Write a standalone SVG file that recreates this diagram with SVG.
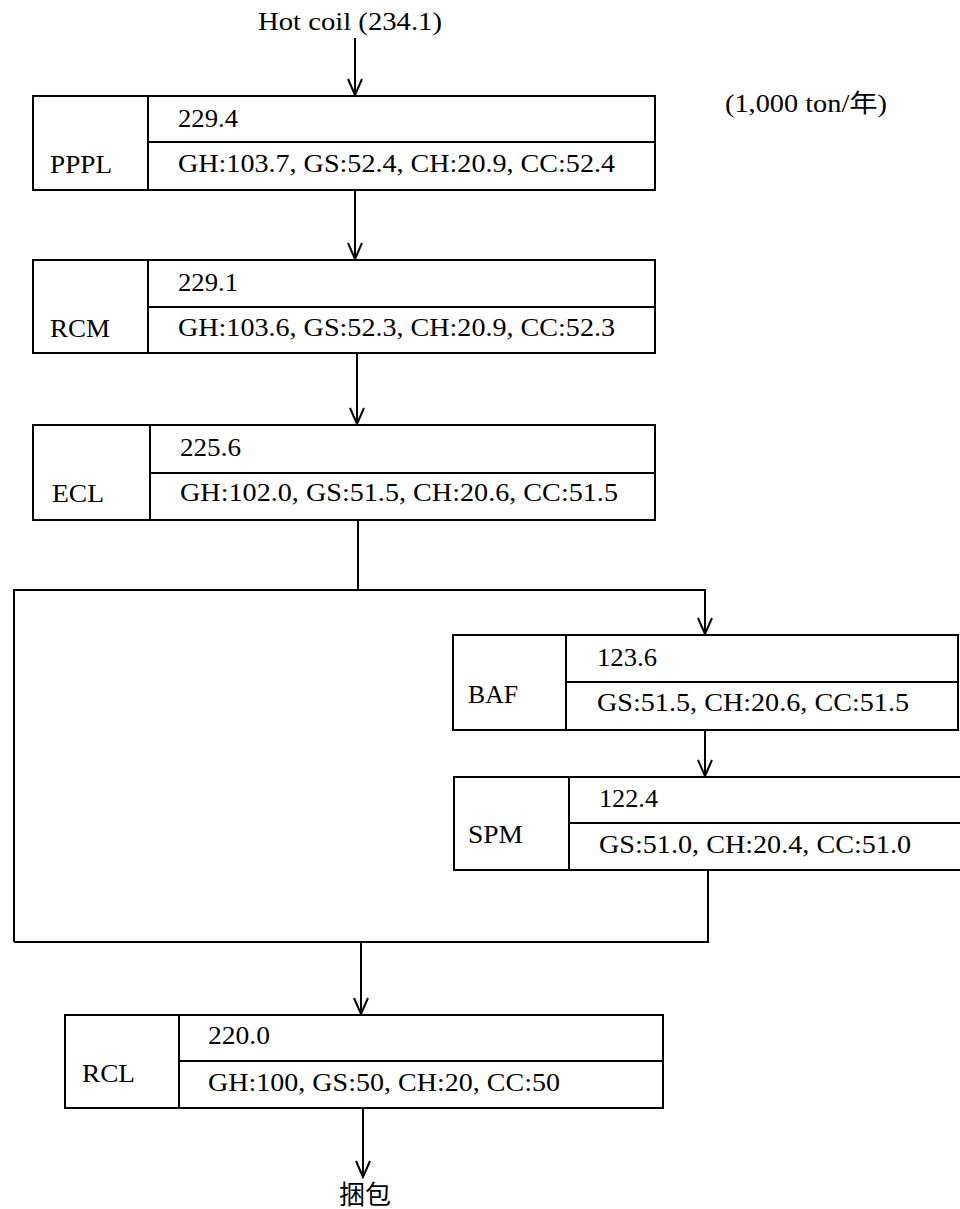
<svg xmlns="http://www.w3.org/2000/svg" width="960" height="1209" viewBox="0 0 960 1209">
<style>
.box{fill:none;stroke:#000;stroke-width:2}
.ln{fill:none;stroke:#000;stroke-width:2}
.t{font-family:"Liberation Serif","Noto Sans CJK SC",serif;font-size:25px;fill:#000}
.cj{font-family:"Liberation Serif","Noto Sans CJK SC",sans-serif;font-size:26px;fill:#000}
</style>
<defs>
<marker id="arr" viewBox="-18 -9 20 18" refX="0" refY="0" markerWidth="20" markerHeight="18" markerUnits="userSpaceOnUse" orient="auto">
<path d="M-16,-7 L0,0 L-16,7" fill="none" stroke="#000" stroke-width="2"/>
</marker>
</defs>
<rect width="960" height="1209" fill="#fff"/>
<text class="t" x="258" y="30" textLength="184" lengthAdjust="spacingAndGlyphs">Hot coil (234.1)</text>
<text class="t" x="725" y="112" textLength="162" lengthAdjust="spacingAndGlyphs">(1,000 ton/年)</text>
<g id="connectors">
<path class="ln" d="M355,38 V95" marker-end="url(#arr)"/>
<path class="ln" d="M355,190 V259" marker-end="url(#arr)"/>
<path class="ln" d="M357,353 V424" marker-end="url(#arr)"/>
<path class="ln" d="M358,520 V590"/>
<path class="ln" d="M14,942 V590 H705 V634" marker-end="url(#arr)"/>
<path class="ln" d="M705,730 V776" marker-end="url(#arr)"/>
<path class="ln" d="M708,870 V942 H14"/>
<path class="ln" d="M361,942 V1014" marker-end="url(#arr)"/>
<path class="ln" d="M363,1108 V1177" marker-end="url(#arr)"/>
</g>
<g id="PPPL">
<rect class="box" x="33" y="96" width="622" height="94"/>
<path class="ln" d="M148,96 V190 M148,142 H655"/>
<text class="t" x="50" y="173" textLength="62" lengthAdjust="spacingAndGlyphs">PPPL</text>
<text class="t" x="178" y="127" textLength="60" lengthAdjust="spacingAndGlyphs">229.4</text>
<text class="t" x="178" y="172" textLength="437" lengthAdjust="spacingAndGlyphs">GH:103.7, GS:52.4, CH:20.9, CC:52.4</text>
</g>
<g id="RCM">
<rect class="box" x="33" y="260" width="622" height="93"/>
<path class="ln" d="M148,260 V353 M148,307 H655"/>
<text class="t" x="50" y="337" textLength="60" lengthAdjust="spacingAndGlyphs">RCM</text>
<text class="t" x="178" y="291" textLength="60" lengthAdjust="spacingAndGlyphs">229.1</text>
<text class="t" x="178" y="336" textLength="437" lengthAdjust="spacingAndGlyphs">GH:103.6, GS:52.3, CH:20.9, CC:52.3</text>
</g>
<g id="ECL">
<rect class="box" x="33" y="425" width="622" height="95"/>
<path class="ln" d="M150,425 V520 M150,473 H655"/>
<text class="t" x="52" y="502" textLength="52" lengthAdjust="spacingAndGlyphs">ECL</text>
<text class="t" x="180" y="456" textLength="61" lengthAdjust="spacingAndGlyphs">225.6</text>
<text class="t" x="180" y="501" textLength="438" lengthAdjust="spacingAndGlyphs">GH:102.0, GS:51.5, CH:20.6, CC:51.5</text>
</g>
<g id="BAF">
<rect class="box" x="453" y="635" width="505" height="95"/>
<path class="ln" d="M566,635 V730 M566,682 H958"/>
<text class="t" x="468" y="703" textLength="50" lengthAdjust="spacingAndGlyphs">BAF</text>
<text class="t" x="597" y="666" textLength="60" lengthAdjust="spacingAndGlyphs">123.6</text>
<text class="t" x="597" y="711" textLength="312" lengthAdjust="spacingAndGlyphs">GS:51.5, CH:20.6, CC:51.5</text>
</g>
<g id="SPM">
<rect class="box" x="454" y="777" width="510" height="93"/>
<path class="ln" d="M569,777 V870 M569,823 H964"/>
<text class="t" x="468" y="843" textLength="55" lengthAdjust="spacingAndGlyphs">SPM</text>
<text class="t" x="599" y="807" textLength="59" lengthAdjust="spacingAndGlyphs">122.4</text>
<text class="t" x="599" y="853" textLength="312" lengthAdjust="spacingAndGlyphs">GS:51.0, CH:20.4, CC:51.0</text>
</g>
<g id="RCL">
<rect class="box" x="65" y="1015" width="598" height="93"/>
<path class="ln" d="M179,1015 V1108 M179,1061 H663"/>
<text class="t" x="82" y="1082" textLength="53" lengthAdjust="spacingAndGlyphs">RCL</text>
<text class="t" x="208" y="1044" textLength="62" lengthAdjust="spacingAndGlyphs">220.0</text>
<text class="t" x="208" y="1091" textLength="352" lengthAdjust="spacingAndGlyphs">GH:100, GS:50, CH:20, CC:50</text>
</g>
<text class="cj" x="365" y="1204" text-anchor="middle">捆包</text>
</svg>
